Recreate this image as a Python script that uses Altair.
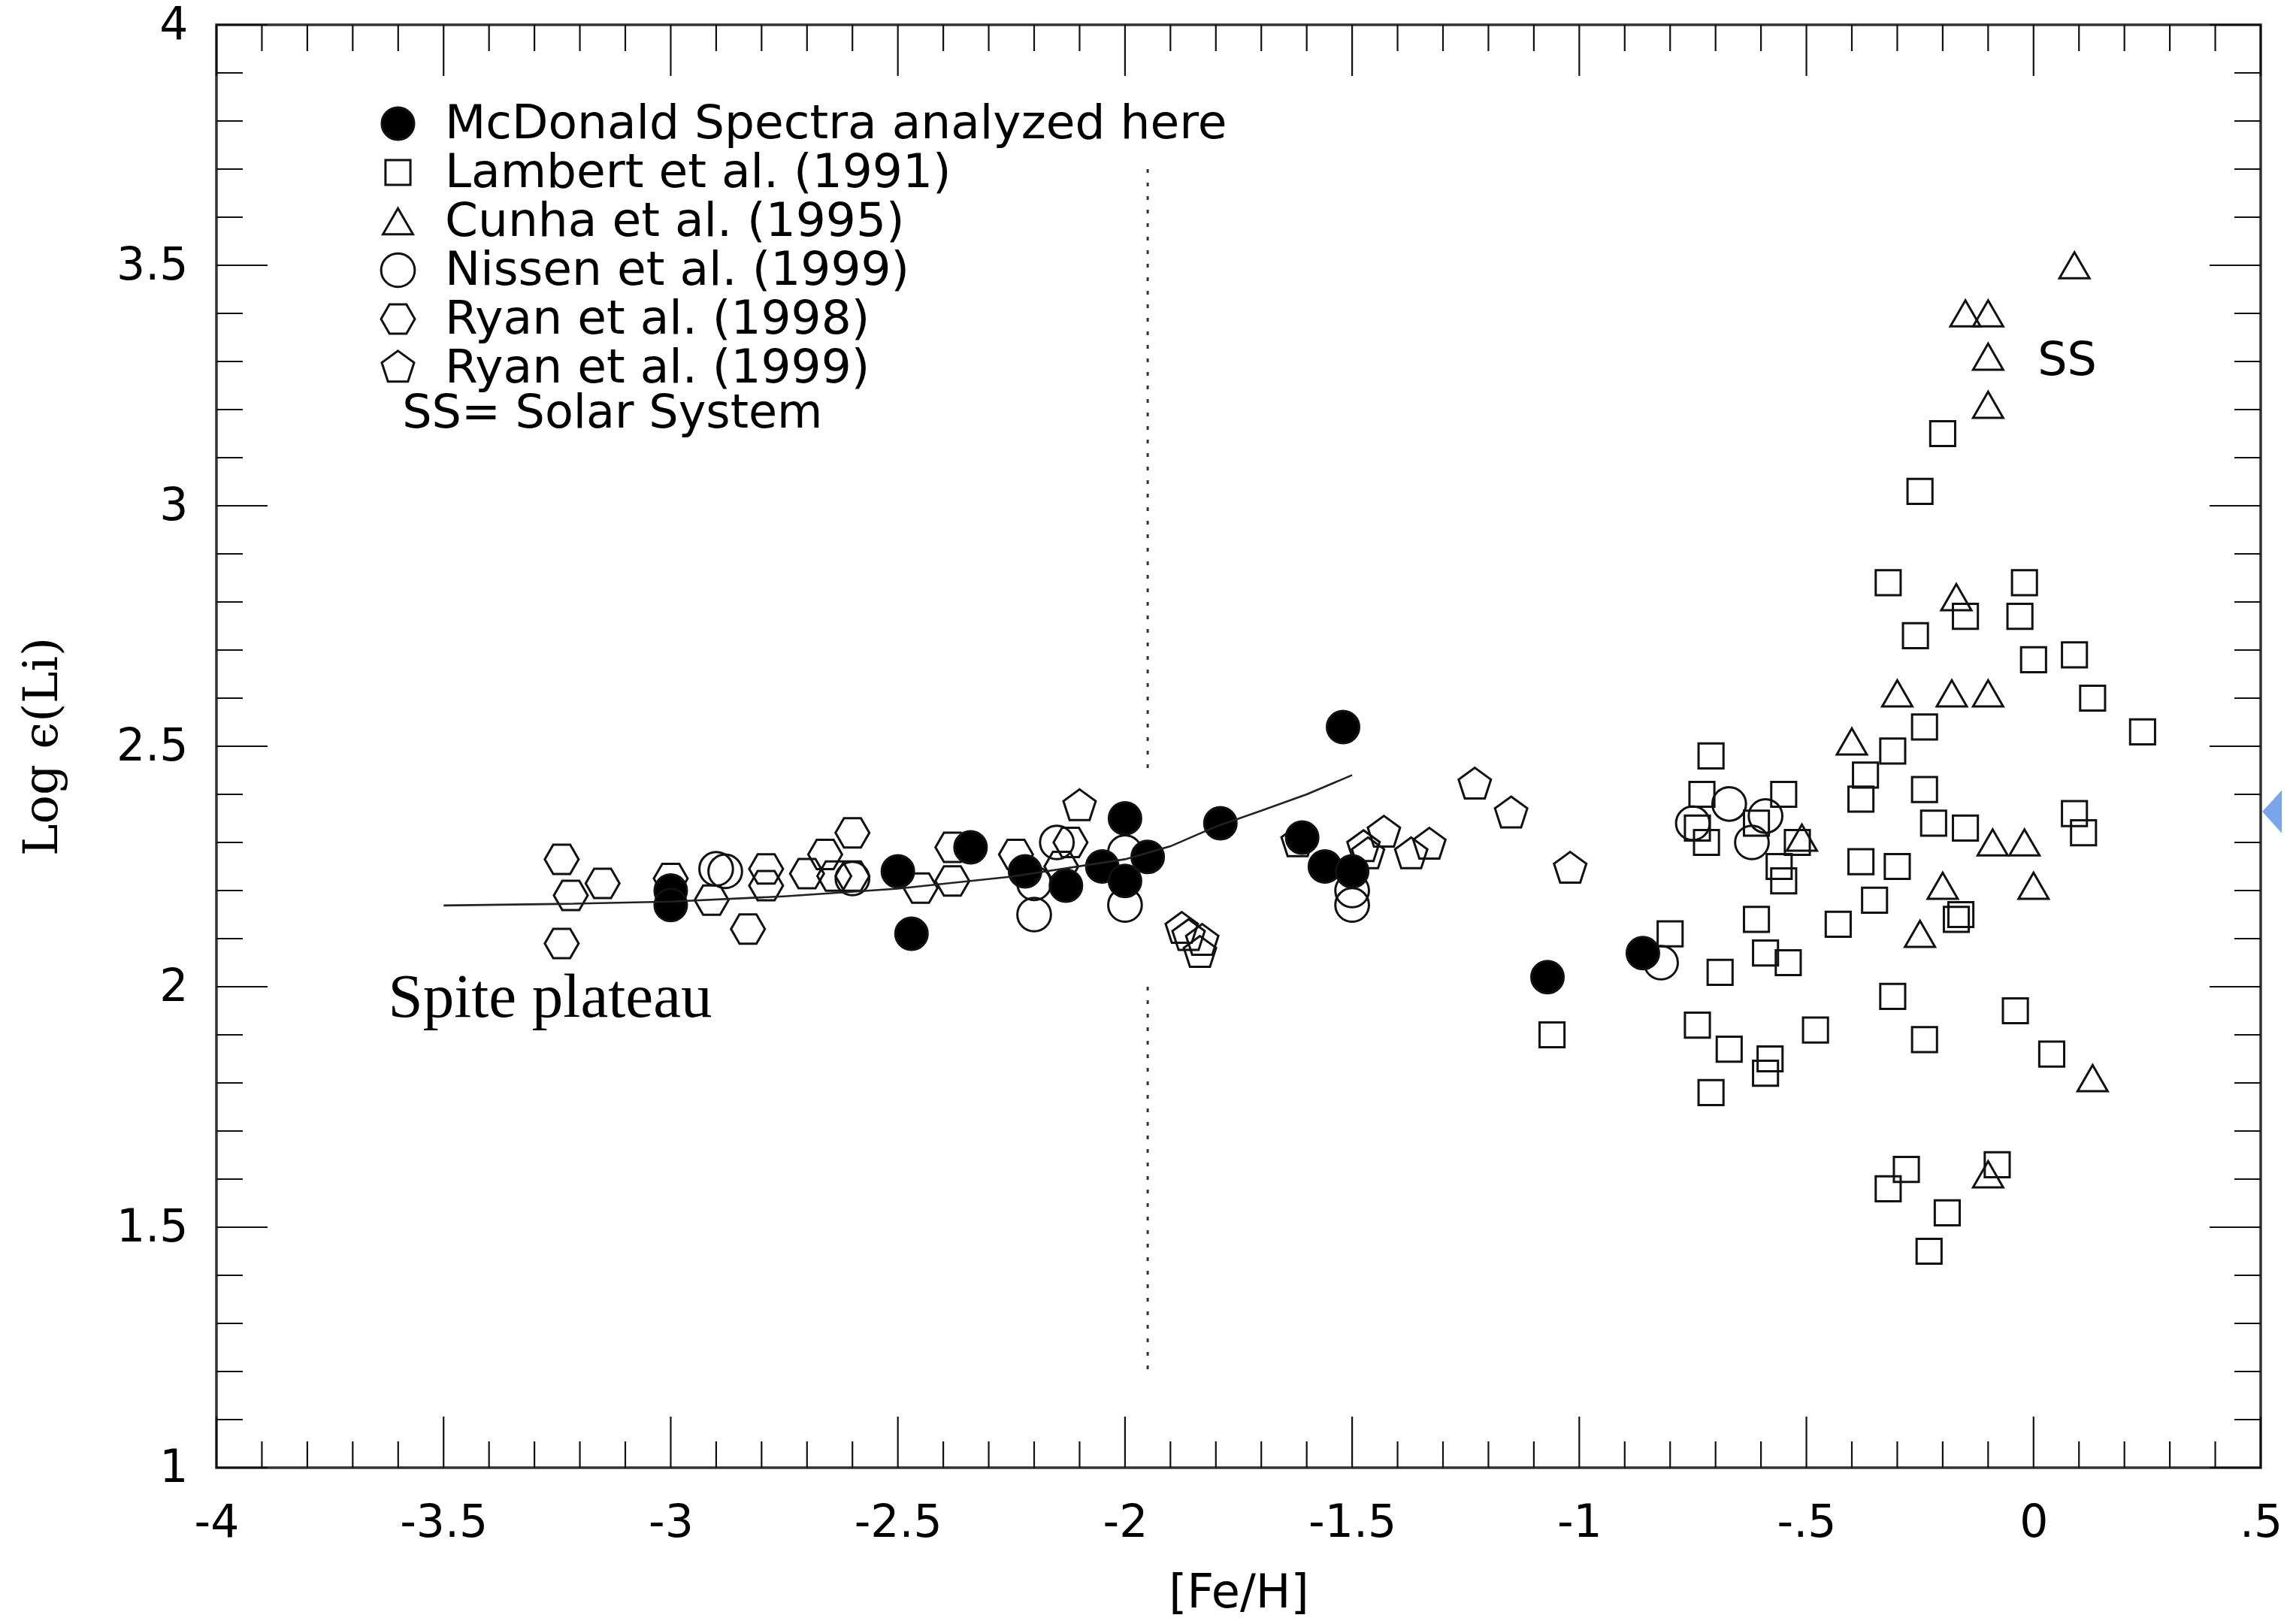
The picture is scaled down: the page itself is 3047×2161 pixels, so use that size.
import altair as alt
import pandas as pd

# ---------------- data ----------------
SERIES = ["McDonald Spectra analyzed here", "Lambert et al. (1991)", "Cunha et al. (1995)",
          "Nissen et al. (1999)", "Ryan et al. (1998)", "Ryan et al. (1999)"]

MCD_X = [-3.00, -3.00, -2.50, -2.47, -2.34, -2.22, -2.13, -2.05, -2.00, -2.00, -1.95,
         -1.79, -1.61, -1.56, -1.50, -1.52, -1.07, -0.86]
MCD_Y = [2.20, 2.17, 2.24, 2.11, 2.29, 2.24, 2.21, 2.25, 2.35, 2.22, 2.27,
         2.34, 2.31, 2.25, 2.24, 2.54, 2.02, 2.07]

LAM_X = [-0.20, -0.25, -0.32, -0.02, -0.15, -0.03, -0.26, 0.00, 0.09, 0.13, -0.24, 0.24,
         -0.71, -0.31, -0.37, -0.38, -0.24, -0.22, -0.15, 0.09, 0.11, -0.38, -0.30, -0.35, -0.43, -0.16, -0.17,
         -0.31, -0.24, -0.04, 0.04, -0.28, -0.32, -0.08, -0.19, -0.23,
         -1.06, -0.80, -0.69, -0.74, -0.67, -0.58, -0.59, -0.71, -0.48, -0.61, -0.59, -0.54,
         -0.73, -0.55, -0.74, -0.72, -0.61, -0.52, -0.56, -0.55]
LAM_Y = [3.15, 3.03, 2.84, 2.84, 2.77, 2.77, 2.73, 2.68, 2.69, 2.60, 2.54, 2.53,
         2.48, 2.49, 2.44, 2.39, 2.41, 2.34, 2.33, 2.36, 2.32, 2.26, 2.25, 2.18, 2.13, 2.15, 2.14,
         1.98, 1.89, 1.95, 1.86, 1.62, 1.58, 1.63, 1.53, 1.45,
         1.90, 2.11, 2.03, 1.92, 1.87, 1.85, 1.82, 1.78, 1.91, 2.14, 2.07, 2.05,
         2.40, 2.40, 2.33, 2.30, 2.34, 2.30, 2.25, 2.22]

CUN_X = [0.09, -0.15, -0.10, -0.10, -0.10, -0.17, -0.30, -0.18, -0.10, -0.40, -0.51, -0.09,
         -0.02, -0.20, 0.00, -0.25, 0.13, -0.10]
CUN_Y = [3.50, 3.40, 3.40, 3.31, 3.21, 2.81, 2.61, 2.61, 2.61, 2.51, 2.31, 2.30,
         2.30, 2.21, 2.21, 2.11, 1.81, 1.61]

NIS_X = [-2.90, -2.88, -2.60, -2.15, -2.20, -2.20, -2.00, -2.00, -1.50, -1.50,
         -0.75, -0.67, -0.59, -0.62, -0.82]
NIS_Y = [2.245, 2.24, 2.225, 2.30, 2.215, 2.15, 2.28, 2.17, 2.20, 2.17,
         2.34, 2.38, 2.355, 2.30, 2.05]

R98_X = [-3.24, -3.22, -3.15, -3.24, -3.00, -2.91, -2.83, -2.79, -2.79, -2.70,
         -2.66, -2.64, -2.60, -2.60, -2.45, -2.38, -2.38, -2.24, -2.12, -2.14]
R98_Y = [2.265, 2.19, 2.215, 2.09, 2.225, 2.18, 2.12, 2.245, 2.21, 2.235,
         2.275, 2.23, 2.32, 2.23, 2.205, 2.29, 2.22, 2.275, 2.30, 2.25]

R99_X = [-2.10, -1.875, -1.86, -1.83, -1.835, -1.62, -1.475, -1.465, -1.43, -1.37,
         -1.33, -1.23, -1.15, -1.02]
R99_Y = [2.375, 2.12, 2.105, 2.095, 2.07, 2.30, 2.29, 2.275, 2.32, 2.275,
         2.295, 2.42, 2.36, 2.245]

FIT_X = [-3.5, -3.25, -3.0, -2.75, -2.5, -2.25, -2.0, -1.9, -1.8, -1.7, -1.6, -1.5]
FIT_Y = [2.169, 2.172, 2.177, 2.188, 2.204, 2.229, 2.265, 2.292, 2.333, 2.366, 2.40, 2.44]

DIV_X = [-1.95, -1.95, -1.95, -1.95]
DIV_Y = [3.70, 2.45, 2.00, 1.20]
DIV_SEG = ["upper", "upper", "lower", "lower"]

X_MAJOR = [-4, -3.5, -3, -2.5, -2, -1.5, -1, -0.5, 0, 0.5]
X_LABELS = ["-4", "-3.5", "-3", "-2.5", "-2", "-1.5", "-1", "-.5", "0", ".5"]
X_MINOR = [round(-4 + 0.1 * i, 1) for i in range(1, 45) if i % 5 != 0]
Y_MAJOR = [1, 1.5, 2, 2.5, 3, 3.5, 4]
Y_LABELS = ["1", "1.5", "2", "2.5", "3", "3.5", "4"]
Y_MINOR = [round(1 + 0.1 * i, 1) for i in range(1, 30) if i % 5 != 0]

NOTE_TEXT = ["Spite plateau", "SS", "SS= Solar System"]
NOTE_X = [-3.622, 0.009, -3.591]
NOTE_Y = [1.9375, 3.272, 3.1625]

POINTER_X = [0.525]
POINTER_Y = [2.364]

# ---------------- styling ----------------
W, H = 2720, 1920
MAJ, MIN = 68, 35
HEX = "M-1,0L-0.5,-0.866L0.5,-0.866L1,0L0.5,0.866L-0.5,0.866Z"
PENT = "M0,-1L0.951,-0.309L0.588,0.809L-0.588,0.809L-0.951,-0.309Z"
SHAPES = ["circle", "square", "triangle-up", "circle", HEX, PENT]
FILLS = ["black", "transparent", "transparent", "transparent", "transparent", "transparent"]
STROKES = ["#111"] * 6
SIZES = [1850, 1100, 1600, 2000, 2025, 2045]
SANS = "DejaVu Sans"
SW = 3

rows = []
for name, xs, ys in [(SERIES[1], LAM_X, LAM_Y), (SERIES[2], CUN_X, CUN_Y),
                     (SERIES[3], NIS_X, NIS_Y), (SERIES[4], R98_X, R98_Y),
                     (SERIES[5], R99_X, R99_Y), (SERIES[0], MCD_X, MCD_Y)]:
    for x, y in zip(xs, ys):
        rows.append({"FeH": x, "LogLi": y, "series": name})
pts = pd.DataFrame(rows)

xscale = alt.Scale(domain=[-4, 0.5], nice=False, zero=False)
yscale = alt.Scale(domain=[1, 4], nice=False, zero=False)


def arr(vals):
    return "[" + ",".join(repr(v) for v in vals) + "]"


x_expr = f"{arr(X_LABELS)}[indexof({arr(X_MAJOR)}, datum.value)]"
y_expr = f"{arr(Y_LABELS)}[indexof({arr(Y_MAJOR)}, datum.value)]"

X_AXIS = alt.Axis(values=X_MAJOR, labelExpr=x_expr, labelFont=SANS, labelFontSize=60,
                  labelColor="black", labelPadding=44, labelFlush=False,
                  labelOverlap=False, ticks=False, tickSize=0, domain=False, grid=False,
                  titleFont=SANS, titleFontSize=62, titleFontWeight="normal",
                  titleColor="black", titlePadding=33)
Y_AXIS = alt.Axis(values=Y_MAJOR, labelExpr=y_expr, labelFont=SANS, labelFontSize=60,
                  labelColor="black", labelPadding=38, labelOverlap=False,
                  ticks=False, tickSize=0, domain=False, grid=False,
                  titleFont="DejaVu Serif", titleFontSize=64, titleFontWeight="normal",
                  titleColor="black", titlePadding=66)


def xe():
    return alt.X("FeH:Q", scale=xscale, title="[Fe/H]", axis=X_AXIS)


def ye():
    return alt.Y("LogLi:Q", scale=yscale, title="Log  ϵ(Li)", axis=Y_AXIS)


legend = alt.Legend(orient="none", legendX=210, legendY=100, title=None,
                    labelFont=SANS, labelFontSize=63, labelColor="black", labelLimit=0,
                    labelOffset=31, rowPadding=1, padding=0,
                    symbolStrokeColor="#111", symbolStrokeWidth=SW)

points = alt.Chart(pts).mark_point(filled=True, strokeWidth=SW, opacity=1).encode(
    x=xe(), y=ye(),
    shape=alt.Shape("series:N", scale=alt.Scale(domain=SERIES, range=SHAPES), legend=legend),
    fill=alt.Fill("series:N", scale=alt.Scale(domain=SERIES, range=FILLS), legend=legend),
    stroke=alt.Stroke("series:N", scale=alt.Scale(domain=SERIES, range=STROKES), legend=legend),
    size=alt.Size("series:N", scale=alt.Scale(type="ordinal", domain=SERIES, range=SIZES),
                  legend=legend),
)

fit = alt.Chart(pd.DataFrame({"FeH": FIT_X, "LogLi": FIT_Y})).mark_line(
    color="#222", strokeWidth=2.6).encode(x=xe(), y=ye())

divider = alt.Chart(pd.DataFrame({"FeH": DIV_X, "LogLi": DIV_Y, "seg": DIV_SEG})).mark_line(
    color="#333", strokeWidth=3, strokeDash=[5, 13]).encode(x=xe(), y=ye(), detail="seg:N")


def xticks(vals, length):
    d = pd.DataFrame({"FeH": vals})
    base = alt.Chart(d).mark_rule(color="#111", strokeWidth=2.2)
    return [base.encode(x=xe(), y=alt.value(H), y2=alt.value(H - length)),
            base.encode(x=xe(), y=alt.value(0), y2=alt.value(length))]


def yticks(vals, length):
    d = pd.DataFrame({"LogLi": vals})
    base = alt.Chart(d).mark_rule(color="#111", strokeWidth=2.2)
    return [base.encode(y=ye(), x=alt.value(0), x2=alt.value(length)),
            base.encode(y=ye(), x=alt.value(W), x2=alt.value(W - length))]


tick_layers = xticks(X_MAJOR, MAJ) + xticks(X_MINOR, MIN) + yticks(Y_MAJOR, MAJ) + yticks(Y_MINOR, MIN)

notes_df = pd.DataFrame({"FeH": NOTE_X, "LogLi": NOTE_Y, "t": NOTE_TEXT})
spite = alt.Chart(notes_df.iloc[[0]]).mark_text(
    align="left", baseline="alphabetic", font="Liberation Serif", fontSize=83, color="black").encode(
    x=xe(), y=ye(), text="t:N")
sans_notes = alt.Chart(notes_df.iloc[[1, 2]]).mark_text(
    align="left", baseline="alphabetic", font=SANS, fontSize=62, color="black").encode(
    x=xe(), y=ye(), text="t:N")

pointer = alt.Chart(pd.DataFrame({"FeH": POINTER_X, "LogLi": POINTER_Y})).mark_point(
    shape="M-1,0L1,-2.2L1,2.2Z", filled=True, color="#79a6ea", size=676, opacity=1).encode(
    x=xe(), y=ye())

chart = alt.layer(points, *tick_layers, divider, fit, spite, sans_notes, pointer).properties(
    width=W, height=H,
    autosize=alt.AutoSizeParams(type="none"),
    padding={"left": 280, "top": 25, "right": 31, "bottom": 200},
    background="white",
).configure_view(stroke="#333", strokeWidth=3.5)

chart.save("out.html", embed_options={"renderer": "svg", "actions": False})
